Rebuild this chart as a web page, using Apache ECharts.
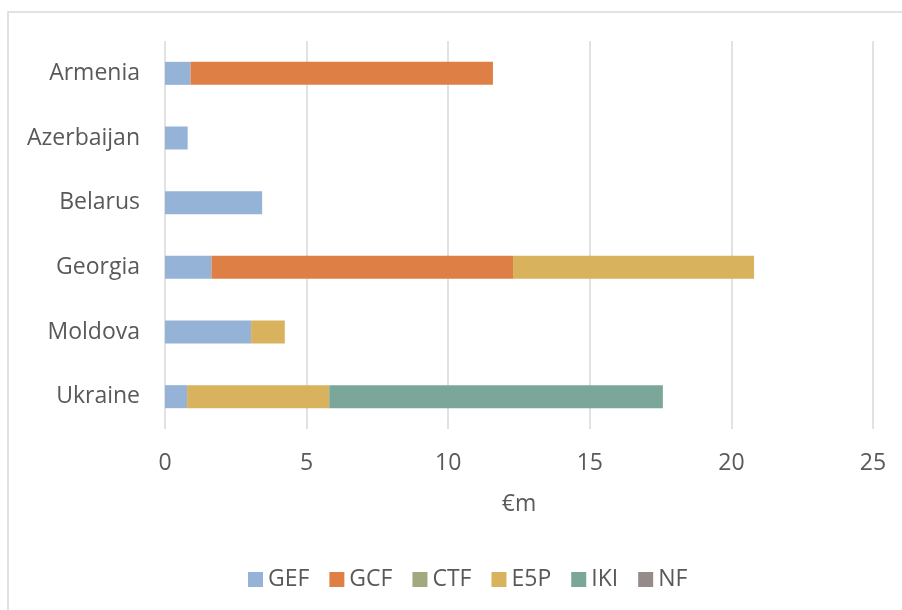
<!DOCTYPE html>
<html>
<head>
<meta charset="utf-8">
<script src="https://cdn.jsdelivr.net/npm/echarts@6/dist/echarts.min.js"></script>
<style>
  html, body { margin: 0; padding: 0; background: #fff; }
  #chart { width: 902px; height: 610px; }
</style>
</head>
<body>
<div id="chart"></div>
<script>
// Climate finance by recipient country and fund (€m)
const countries = ['Armenia', 'Azerbaijan', 'Belarus', 'Georgia', 'Moldova', 'Ukraine'];
const gef = [0.90, 0.80, 3.43, 1.64, 3.04, 0.78];
const gcf = [10.68, null, null, 10.65, null, null];
const ctf = [null, null, null, null, null, null];
const e5p = [null, null, null, 8.51, 1.19, 5.02];
const iki = [null, null, null, null, null, 11.78];
const nf  = [null, null, null, null, null, null];
const xTicks = [0, 5, 10, 15, 20, 25];

const fundSeries = [
  { name: 'GEF', data: gef, color: '#95B3D7' },
  { name: 'GCF', data: gcf, color: '#DE8046' },
  { name: 'CTF', data: ctf, color: '#A3A97E' },
  { name: 'E5P', data: e5p, color: '#D8B25C' },
  { name: 'IKI', data: iki, color: '#7BA69A' },
  { name: 'NF',  data: nf,  color: '#958B89' }
];

const font = 'Open Sans';
const textColor = '#595959';

const chart = echarts.init(document.getElementById('chart'), null, { renderer: 'canvas' });
chart.setOption({
  animation: false,
  backgroundColor: '#fff',
  graphic: [{
    type: 'rect',
    shape: { x: 8, y: 12, width: 1000, height: 700 },
    style: { fill: 'none', stroke: '#d9d9d9', lineWidth: 1.5 },
    silent: true
  }],
  grid: { left: 165, right: 29, top: 41, height: 388 },
  legend: {
    left: 243,
    top: 563,
    icon: 'rect',
    itemWidth: 15,
    itemHeight: 15,
    itemGap: 20,
    textStyle: { fontFamily: font, fontSize: 23, color: textColor },
    data: fundSeries.map(s => s.name)
  },
  xAxis: {
    type: 'value',
    min: xTicks[0],
    max: xTicks[xTicks.length - 1],
    interval: 5,
    name: '€m',
    nameLocation: 'middle',
    nameGap: 64,
    nameTextStyle: { fontFamily: font, fontSize: 23, color: textColor },
    axisLine: { show: false },
    axisTick: { show: false },
    axisLabel: { margin: 23, fontFamily: font, fontSize: 23, color: textColor },
    splitLine: { show: true, lineStyle: { color: '#d9d9d9', width: 1.5 } }
  },
  yAxis: {
    type: 'category',
    inverse: true,
    data: countries,
    axisLine: { show: false },
    axisTick: { show: false },
    axisLabel: { margin: 25, fontFamily: font, fontSize: 23, color: textColor }
  },
  series: fundSeries.map(s => ({
    name: s.name,
    type: 'bar',
    stack: 'total',
    barWidth: 23,
    data: s.data,
    itemStyle: { color: s.color }
  }))
});
</script>
</body>
</html>
